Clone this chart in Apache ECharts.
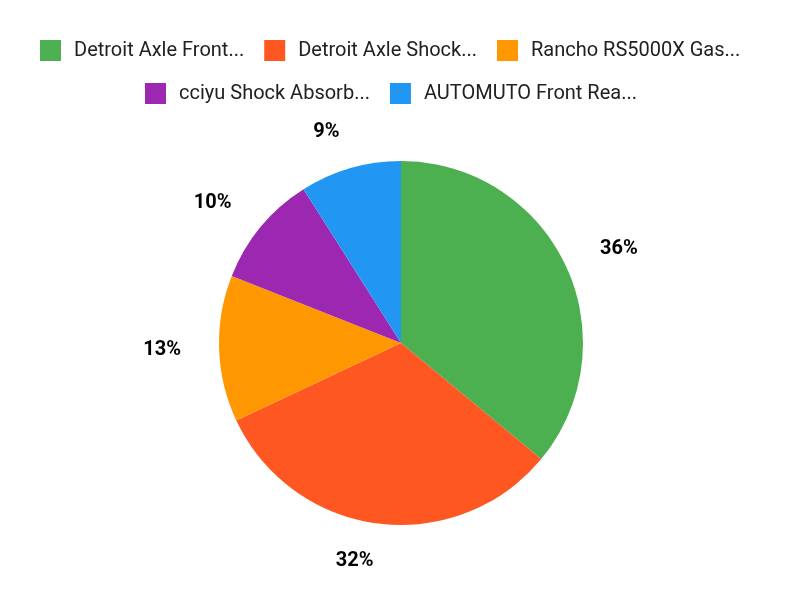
<!DOCTYPE html>
<html>
<head>
<meta charset="utf-8">
<script src="https://cdn.jsdelivr.net/npm/echarts@6/dist/echarts.min.js"></script>
<style>
  html, body { margin: 0; padding: 0; background: #fff; }
  #main { width: 800px; height: 600px; }
</style>
</head>
<body>
<div id="main"></div>
<script>
// product share pie
var names = ['Detroit Axle Front...', 'Detroit Axle Shock...', 'Rancho RS5000X Gas...', 'cciyu Shock Absorb...', 'AUTOMUTO Front Rea...'];
var shares = [36, 32, 13, 10, 9];
var colors = ['#4CAF50', '#FF5722', '#FF9800', '#9C27B0', '#2196F3'];

var pieData = names.map(function (n, i) {
    return { name: n, value: shares[i], itemStyle: { color: colors[i] } };
});

var legendText = {
    fontFamily: 'Roboto',
    fontSize: 20,
    color: '#212121',
    padding: [0, 0, 0, 8]
};

var chart = echarts.init(document.getElementById('main'));
var option = {
    textStyle: { fontFamily: 'Roboto' },
    legend: [
        {
            data: names.slice(0, 3),
            top: 35,
            left: 35,
            icon: 'rect',
            itemWidth: 21,
            itemHeight: 21,
            itemGap: 20,
            textStyle: legendText
        },
        {
            data: names.slice(3),
            top: 78,
            left: 140,
            icon: 'rect',
            itemWidth: 21,
            itemHeight: 21,
            itemGap: 20,
            textStyle: legendText
        }
    ],
    series: [
        {
            type: 'pie',
            center: [401, 343],
            radius: 182,
            startAngle: 90,
            clockwise: true,
            animation: false,
            label: {
                show: true,
                position: 'outside',
                formatter: '{d}%',
                fontFamily: 'Roboto',
                fontSize: 20,
                fontWeight: 'bold',
                color: '#000',
                distanceToLabelLine: 0
            },
            labelLine: {
                show: false,
                length: 38,
                length2: 0
            },
            emphasis: { disabled: true },
            data: pieData
        }
    ]
};
chart.setOption(option);
</script>
</body>
</html>
